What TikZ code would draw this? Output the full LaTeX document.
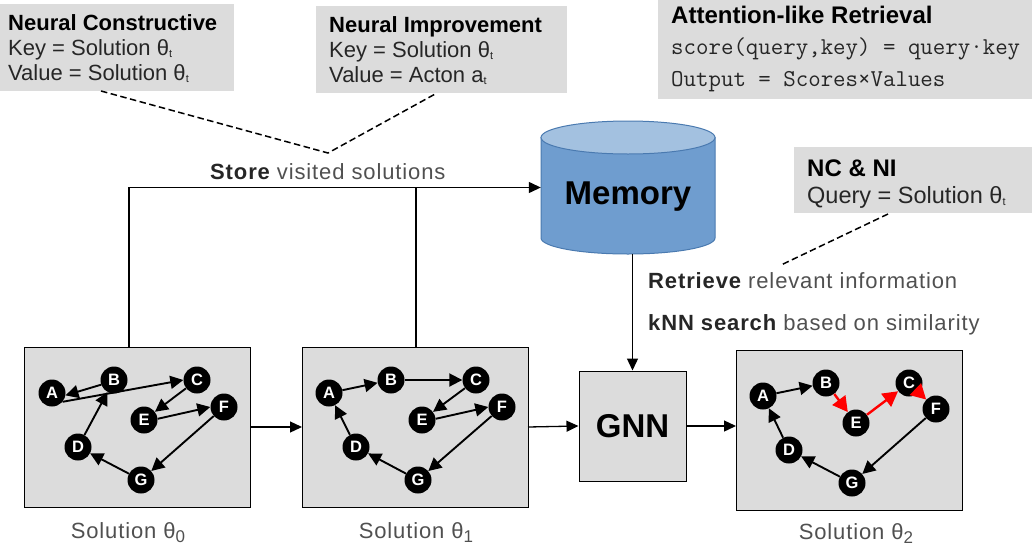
\documentclass[tikz,border=0pt]{standalone}
\usepackage{fontspec}
\setmainfont{Liberation Sans}
\newfontfamily\spaced[LetterSpace=4]{Liberation Sans}
\setmonofont{Latin Modern Mono}
\usetikzlibrary{arrows.meta}
\definecolor{panel}{HTML}{DCDCDC}
\definecolor{softtext}{HTML}{505050}
\definecolor{inktext}{HTML}{262626}
\definecolor{cylbody}{HTML}{6F9DCF}
\definecolor{cyltop}{HTML}{A3C1E0}
\definecolor{cylline}{HTML}{4A7AB0}
\newcommand{\fsz}[1]{\fontsize{#1}{#1}\selectfont}
\newcommand{\tinysub}[1]{\raisebox{-2.5pt}{\fsz{11}#1}}
\newcommand{\numsub}[1]{\raisebox{-4pt}{\fsz{17}#1}}
\tikzset{
  x=1pt,y=-1pt,
  graybox/.style={fill=panel,draw=none,inner sep=0pt,outer sep=0pt},
  solbox/.style={fill=panel,draw=black,line width=1pt,inner sep=0pt,outer sep=0pt,minimum width=226pt,minimum height=160pt},
  city/.style={circle,fill=black,text=white,inner sep=0pt,minimum size=27pt,font=\bfseries\fsz{16.5}},
  tour/.style={-{Triangle[length=13pt,width=13pt]},line width=1.9pt,black},
  better/.style={-{Triangle[length=15pt,width=16pt]},line width=2.4pt,red},
  flow/.style={-{Triangle[length=12pt,width=11pt]},line width=1.3pt,black},
  wire/.style={line width=1.3pt,black},
  leader/.style={line width=1.5pt,black,dash pattern=on 6.5pt off 3.5pt},
  boxtext/.style={anchor=base west,inner sep=0pt,text=inktext,font=\fsz{22}},
  boxhead/.style={boxtext,text=black,font=\bfseries\fsz{22}},
  bigtext/.style={boxtext,font=\fsz{23.5}},
  bighead/.style={boxtext,text=black,font=\bfseries\fsz{24}},
  codetext/.style={anchor=base west,inner sep=0pt,text=inktext,font=\ttfamily\fsz{24.2}},
  flowtext/.style={anchor=base west,inner sep=0pt,text=softtext,font=\spaced\fsz{22}},
  caption/.style={anchor=base,inner sep=0pt,text=softtext,font=\spaced\fsz{22}},
}
\begin{document}
\begin{tikzpicture}
\useasboundingbox (0,0) rectangle (1032,549);
% gray panels
\node[graybox,minimum width=234pt,minimum height=87pt] (nc) at (117,47.5) {};
\node[graybox,minimum width=251pt,minimum height=87pt] (ni) at (441.5,49.5) {};
\node[graybox,minimum width=374pt,minimum height=99pt] (att) at (845,49.5) {};
\node[graybox,minimum width=238pt,minimum height=66pt] (q) at (913,180) {};
\node[boxhead] (nc1) at (8,30) {Neural Constructive};
\node[boxtext] (nc2) at (8,55) {Key = Solution θ\tinysub{t}};
\node[boxtext] (nc3) at (8,80) {Value = Solution θ\tinysub{t}};
\node[boxhead] (ni1) at (329,32) {Neural Improvement};
\node[boxtext] (ni2) at (329,57) {Key = Solution θ\tinysub{t}};
\node[boxtext] (ni3) at (329,82) {Value = Acton a\tinysub{t}};
\node[bighead] (att1) at (671,23) {Attention-like Retrieval};
\node[codetext] (att2) at (671,54) {score(query,key) = query·key};
\node[codetext] (att3) at (671,86) {Output = Scores×Values};
\node[bighead] (q1) at (807,176) {NC \& NI};
\node[bigtext] (q2) at (807,203) {Query = Solution θ\tinysub{t}};
% memory
\node[inner sep=0pt,minimum width=174pt,minimum height=133pt] (mem) at (628,187.5) {};
\draw[cylline,line width=1pt,fill=cylbody] (541,137.5) -- (541,238) arc[start angle=180,end angle=360,x radius=87,y radius=-16] -- (715,137.5) -- cycle;
\draw[cylline,line width=1pt,fill=cyltop] (628,137.5) ellipse[x radius=87,y radius=16.5];
\node[inner sep=0pt,font=\bfseries\fsz{33},text=black] (memlabel) at (628,197) {Memory};
% solution boxes
\node[solbox] (s0) at (137,427) {};
\node[solbox] (s1) at (415,427) {};
\node[solbox] (s2) at (849,430) {};
\node[fill=panel,draw=black,line width=1pt,inner sep=0pt,minimum width=107pt,minimum height=110pt,font=\bfseries\fsz{33},text=black] (gnn) at (632.5,426) {GNN};
% flow
\coordinate (w0) at (129,347);
\coordinate (w1) at (416,347);
\draw[flow] (w0) |- (mem.west);
\draw[wire] (w1) -- (w1 |- mem.west);
\draw[flow] (s0.east) -- (s1.west);
\draw[flow] (s1.east) -- (gnn.west);
\draw[flow] (gnn.east) -- (gnn.east -| s2.west);
\draw[flow] (mem.south -| gnn.north) -- (gnn.north);
% leaders
\coordinate (apex) at (328,153);
\coordinate (nctail) at (101,91);
\coordinate (nitail) at (437,93);
\coordinate (qtail) at (888,214);
\coordinate (qend) at (781,265);
\draw[leader] (nctail) -- (apex) -- (nitail);
\draw[leader] (qtail) -- (qend);
% flow text
\node[flowtext] (store) at (210,179) {\textcolor{inktext}{\bfseries Store} visited solutions};
\node[flowtext] (retr) at (648,288) {\textcolor{inktext}{\bfseries Retrieve} relevant information};
\node[flowtext] (knn) at (648,330) {\textcolor{inktext}{\bfseries kNN search} based on similarity};
\node[caption] (c0) at (128,538) {Solution θ\numsub{0}};
\node[caption] (c1) at (416,538) {Solution θ\numsub{1}};
\node[caption] (c2) at (856,539) {Solution θ\numsub{2}};
% graph 0
\node[city] (a0) at (52,393) {A};
\node[city] (b0) at (114,380) {B};
\node[city] (c0n) at (197,380) {C};
\node[city] (e0) at (144,420) {E};
\node[city] (f0) at (224,407) {F};
\node[city] (d0) at (78,447) {D};
\node[city] (g0) at (141,480) {G};
\draw[tour] (b0.200) -- (a0.350);
\draw[tour] (a0.-40) -- (c0n.west);
\draw[tour] (c0n) -- (e0);
\draw[tour] (e0.5) -- (f0.west);
\draw[tour] (f0) -- (g0);
\draw[tour] (g0) -- (d0);
\draw[tour] (d0) -- (b0);
% graph 1
\node[city] (a1) at (329,393) {A};
\node[city] (b1) at (391,380) {B};
\node[city] (c1n) at (476,380) {C};
\node[city] (e1) at (422,420) {E};
\node[city] (f1) at (502,407) {F};
\node[city] (d1) at (356,447) {D};
\node[city] (g1) at (418,480) {G};
\draw[tour] (a1) -- (b1);
\draw[tour] (b1) -- (c1n);
\draw[tour] (c1n) -- (e1);
\draw[tour] (e1.5) -- (f1.west);
\draw[tour] (f1) -- (g1);
\draw[tour] (g1) -- (d1);
\draw[tour] (d1) -- (a1);
% graph 2
\node[city] (a2) at (763,396) {A};
\node[city] (b2) at (826,383) {B};
\node[city] (c2n) at (909,383) {C};
\node[city] (e2) at (856,423) {E};
\node[city] (f2) at (936,409) {F};
\node[city] (d2) at (789,450) {D};
\node[city] (g2) at (852,483) {G};
\draw[tour] (a2) -- (b2);
\draw[better] (b2) -- (e2);
\draw[better] (e2) -- (c2n);
\draw[better] (c2n) -- (f2);
\draw[tour] (f2) -- (g2);
\draw[tour] (g2) -- (d2);
\draw[tour] (d2) -- (a2);
\end{tikzpicture}
\end{document}
